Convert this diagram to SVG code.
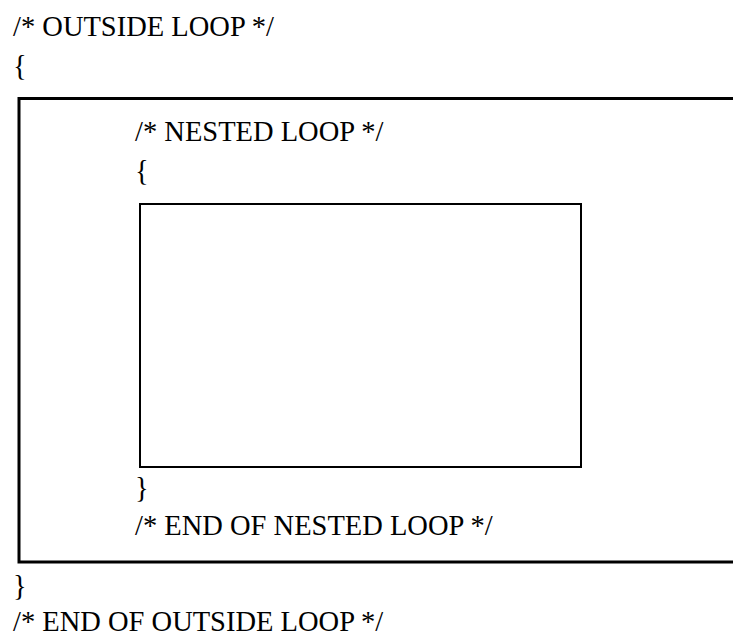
<svg xmlns="http://www.w3.org/2000/svg" width="733" height="637" viewBox="0 0 733 637">
<style>
  text { font-family: "Liberation Serif", "Times New Roman", serif; font-size: 28.5px; fill: #000; }
  .box { fill: none; stroke: #000; }
</style>
<rect width="733" height="637" fill="#fff"/>
<g id="outside-loop">
  <text x="13" y="36">/* OUTSIDE LOOP */</text>
  <text x="13" y="75">{</text>
  <path class="box" d="M 740 98.5 H 19 V 562 H 740" stroke-width="3"/>
  <text x="13" y="595">}</text>
  <text x="13" y="631">/* END OF OUTSIDE LOOP */</text>
</g>
<g id="nested-loop">
  <text x="135" y="141">/* NESTED LOOP */</text>
  <text x="135" y="180">{</text>
  <rect class="box" x="140" y="204" width="441" height="263" stroke-width="2"/>
  <text x="135" y="497">}</text>
  <text x="135" y="535">/* END OF NESTED LOOP */</text>
</g>
<g id="connectors"></g>
</svg>
